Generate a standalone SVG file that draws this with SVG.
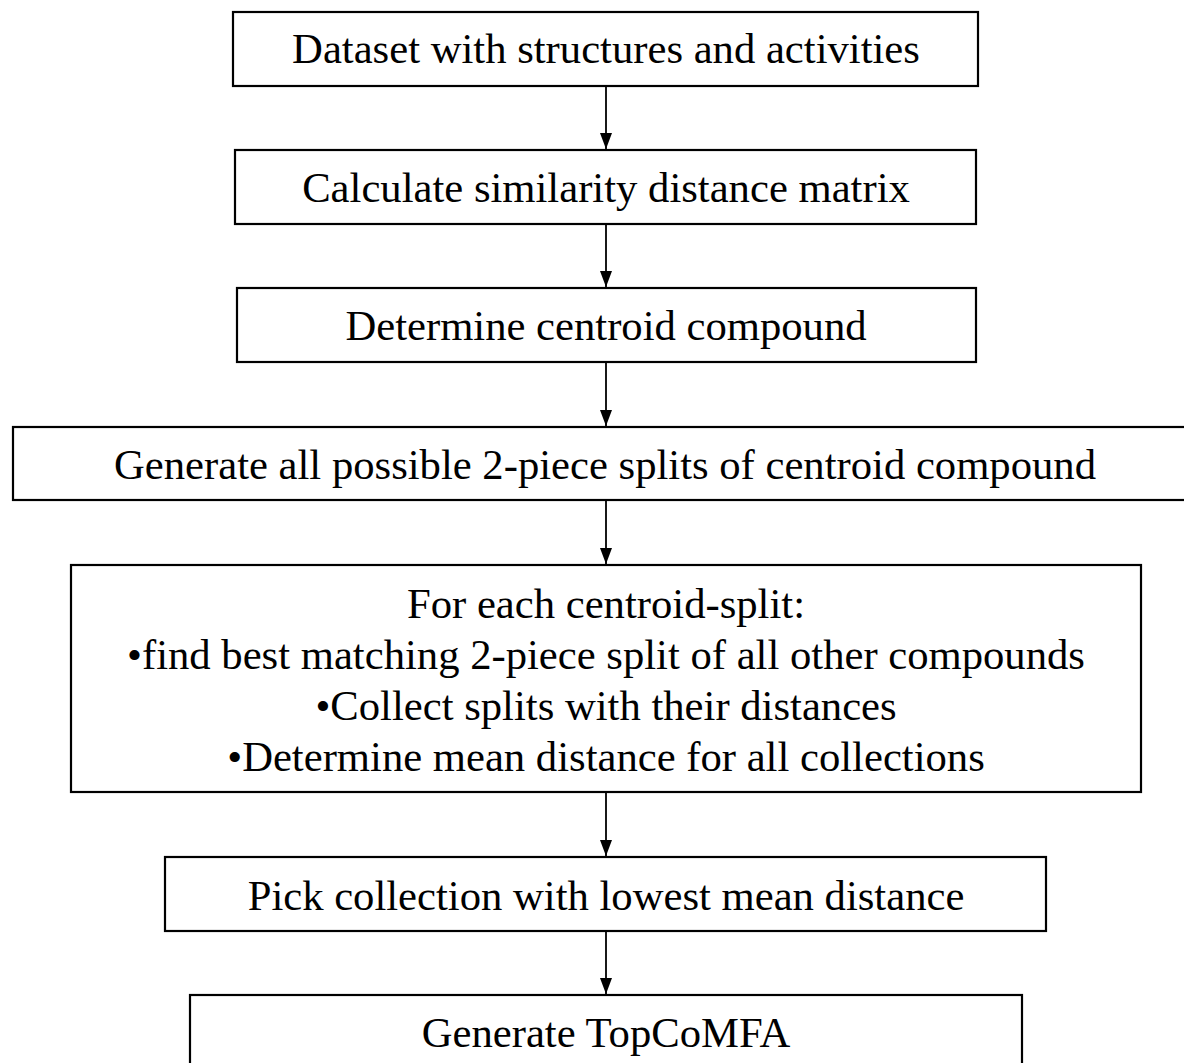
<svg xmlns="http://www.w3.org/2000/svg" width="1184" height="1063" viewBox="0 0 1184 1063">
<style>
.box{fill:#fff;stroke:#000;stroke-width:2.2}
.t{font-family:"Liberation Serif","Times New Roman",serif;font-size:42.67px;fill:#000;text-anchor:middle}
.c{stroke:#000;stroke-width:1.8;fill:none}
</style>
<defs>
<marker id="ah" viewBox="0 0 16 12" refX="16" refY="6" markerWidth="16" markerHeight="12" markerUnits="userSpaceOnUse" orient="auto">
<path d="M0,0 L16,6 L0,12 Z" fill="#000"/>
</marker>
</defs>
<rect width="1184" height="1063" fill="#fff"/>
<g id="connectors">
<line class="c" x1="606" y1="86" x2="606" y2="149" marker-end="url(#ah)"/>
<line class="c" x1="606" y1="224" x2="606" y2="287" marker-end="url(#ah)"/>
<line class="c" x1="606" y1="362" x2="606" y2="426" marker-end="url(#ah)"/>
<line class="c" x1="606" y1="500" x2="606" y2="564" marker-end="url(#ah)"/>
<line class="c" x1="606" y1="792" x2="606" y2="856" marker-end="url(#ah)"/>
<line class="c" x1="606" y1="931" x2="606" y2="994" marker-end="url(#ah)"/>
</g>
<g id="n1"><rect class="box" x="233" y="12" width="745" height="74"/><text class="t" x="606" y="63">Dataset with structures and activities</text></g>
<g id="n2"><rect class="box" x="235" y="150" width="741" height="74"/><text class="t" x="606" y="202">Calculate similarity distance matrix</text></g>
<g id="n3"><rect class="box" x="237" y="288" width="739" height="74"/><text class="t" x="606" y="340">Determine centroid compound</text></g>
<g id="n4"><rect class="box" x="13" y="427" width="1180" height="73"/><text class="t" x="605" y="479">Generate all possible 2-piece splits of centroid compound</text></g>
<g id="n5"><rect class="box" x="71" y="565" width="1070" height="227"/>
<text class="t" x="606" y="618">For each centroid-split:</text>
<text class="t" x="606" y="669">•find best matching 2-piece split of all other compounds</text>
<text class="t" x="606" y="720">•Collect splits with their distances</text>
<text class="t" x="606" y="771">•Determine mean distance for all collections</text>
</g>
<g id="n6"><rect class="box" x="165" y="857" width="881" height="74"/><text class="t" x="606" y="910">Pick collection with lowest mean distance</text></g>
<g id="n7"><rect class="box" x="190" y="995" width="832" height="90"/><text class="t" x="606" y="1047">Generate TopCoMFA</text></g>
</svg>
